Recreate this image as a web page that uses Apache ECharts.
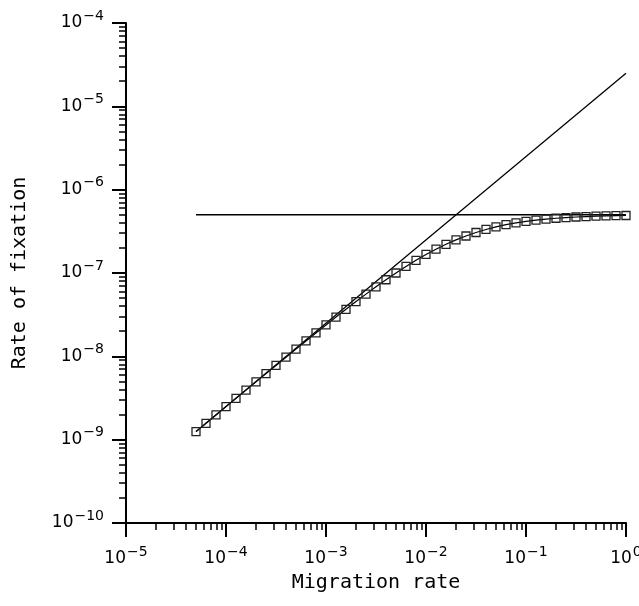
<!DOCTYPE html>
<html>
<head>
<meta charset="utf-8">
<script src="https://cdn.jsdelivr.net/npm/echarts@6/dist/echarts.min.js"></script>
<style>
  html, body { margin: 0; padding: 0; background: #fff; }
  #chart { width: 639px; height: 606px; }
</style>
</head>
<body>
<div id="chart"></div>
<script>
// ---- data ----
const migrationRates = [
  5.012e-5, 6.310e-5, 7.943e-5, 1.000e-4, 1.259e-4, 1.585e-4, 1.995e-4, 2.512e-4, 3.162e-4, 3.981e-4,
  5.012e-4, 6.310e-4, 7.943e-4, 1.000e-3, 1.259e-3, 1.585e-3, 1.995e-3, 2.512e-3, 3.162e-3, 3.981e-3,
  5.012e-3, 6.310e-3, 7.943e-3, 1.000e-2, 1.259e-2, 1.585e-2, 1.995e-2, 2.512e-2, 3.162e-2, 3.981e-2,
  5.012e-2, 6.310e-2, 7.943e-2, 1.000e-1, 1.259e-1, 1.585e-1, 1.995e-1, 2.512e-1, 3.162e-1, 3.981e-1,
  5.012e-1, 6.310e-1, 7.943e-1, 1.000
];
const fixationRates = [
  1.25e-9, 1.57e-9, 1.98e-9, 2.49e-9, 3.13e-9, 3.93e-9, 4.94e-9, 6.20e-9, 7.78e-9, 9.76e-9,
  1.22e-8, 1.53e-8, 1.91e-8, 2.38e-8, 2.96e-8, 3.67e-8, 4.54e-8, 5.58e-8, 6.83e-8, 8.30e-8,
  1.00e-7, 1.20e-7, 1.42e-7, 1.67e-7, 1.93e-7, 2.21e-7, 2.50e-7, 2.78e-7, 3.06e-7, 3.33e-7,
  3.57e-7, 3.80e-7, 3.99e-7, 4.17e-7, 4.31e-7, 4.44e-7, 4.54e-7, 4.63e-7, 4.70e-7, 4.76e-7,
  4.81e-7, 4.85e-7, 4.88e-7, 4.90e-7
];
// straight reference lines
const refLineX = [5.012e-5, 1.0];
const linearRegimeY = [1.25e-9, 2.5e-5];
const plateauY = [5.0e-7, 5.0e-7];

// tick labels (powers of ten)
const xTickExponents = [-5, -4, -3, -2, -1, 0];
const yTickExponents = [-10, -9, -8, -7, -6, -5, -4];
const minorMultipliers = [2, 3, 4, 5, 6, 7, 8, 9];

// ---- build ----
const L = Math.log10;
const minorTicks = exps => {
  const out = [];
  exps.slice(0, -1).forEach(k => minorMultipliers.forEach(m => out.push(k + L(m))));
  return out;
};
const xMinor = minorTicks(xTickExponents);
const yMinor = minorTicks(yTickExponents);

const NAME_FONT = '"DejaVu Sans Mono", monospace';
const TICK_FONT = '"DejaVu Sans", sans-serif';
const fmtPow = v => {
  const e = Math.round(v);
  const s = e < 0 ? '\u2212' + (-e) : String(e);
  return '{b|10}{s|' + s + '}';
};
const labelRich = {
  b: { fontFamily: TICK_FONT, fontSize: 17, color: '#000' },
  s: { fontFamily: TICK_FONT, fontSize: 14, color: '#000', padding: [0, 0, 14, 1] }
};

const xMin = xTickExponents[0], xMax = xTickExponents[xTickExponents.length - 1];
const yMin = yTickExponents[0], yMax = yTickExponents[yTickExponents.length - 1];

const baseAxis = (min, max) => ({
  type: 'value', min: min, max: max, interval: 1,
  splitLine: { show: false },
  axisLine: { onZero: false }
});

const chart = echarts.init(document.getElementById('chart'), null, { renderer: 'canvas' });
chart.setOption({
  animation: false,
  backgroundColor: '#fff',
  grid: { left: 126, right: 13, top: 23, bottom: 83, containLabel: false, outerBoundsMode: 'none' },
  xAxis: [
    Object.assign(baseAxis(xMin, xMax), {
      position: 'bottom',
      name: 'Migration rate', nameLocation: 'middle', nameGap: 50, nameMoveOverlap: false,
      nameTextStyle: { fontFamily: NAME_FONT, fontSize: 20, color: '#000' },
      axisLine: { show: true, onZero: false, lineStyle: { color: '#000', width: 2 } },
      axisTick: { show: true, inside: false, length: 14, lineStyle: { color: '#000', width: 2 } },
      axisLabel: { margin: 22, formatter: fmtPow, rich: labelRich }
    }),
    Object.assign(baseAxis(xMin, xMax), {
      position: 'bottom',
      axisLine: { show: false, onZero: false },
      axisLabel: { show: false },
      axisTick: { show: true, inside: false, length: 7, customValues: xMinor, lineStyle: { color: '#000', width: 1.5 } }
    })
  ],
  yAxis: [
    Object.assign(baseAxis(yMin, yMax), {
      position: 'left',
      name: 'Rate of fixation', nameLocation: 'middle', nameGap: 96, nameMoveOverlap: false,
      nameTextStyle: { fontFamily: NAME_FONT, fontSize: 20, color: '#000' },
      axisLine: { show: true, onZero: false, lineStyle: { color: '#000', width: 2 } },
      axisTick: { show: true, inside: false, length: 14, lineStyle: { color: '#000', width: 2 } },
      axisLabel: { margin: 22, formatter: fmtPow, rich: labelRich }
    }),
    Object.assign(baseAxis(yMin, yMax), {
      position: 'left',
      axisLine: { show: false, onZero: false },
      axisLabel: { show: false },
      axisTick: { show: true, inside: false, length: 7, customValues: yMinor, lineStyle: { color: '#000', width: 1.5 } }
    })
  ],
  series: [
    {
      type: 'line', xAxisIndex: 0, yAxisIndex: 0,
      data: refLineX.map((x, i) => [L(x), L(linearRegimeY[i])]),
      symbol: 'none', silent: true,
      lineStyle: { color: '#000', width: 1.3 }
    },
    {
      type: 'line', xAxisIndex: 0, yAxisIndex: 0,
      data: refLineX.map((x, i) => [L(x), L(plateauY[i])]),
      symbol: 'none', silent: true,
      lineStyle: { color: '#000', width: 1.3 }
    },
    {
      type: 'line', xAxisIndex: 0, yAxisIndex: 0,
      data: migrationRates.map((x, i) => [L(x), L(fixationRates[i])]),
      symbol: 'rect', symbolSize: 8, showSymbol: true, silent: true,
      color: '#000',
      lineStyle: { color: '#000', width: 1.2 },
      itemStyle: { color: 'rgba(0,0,0,0)', borderColor: '#222', borderWidth: 1.3 }
    }
  ]
});
</script>
</body>
</html>
